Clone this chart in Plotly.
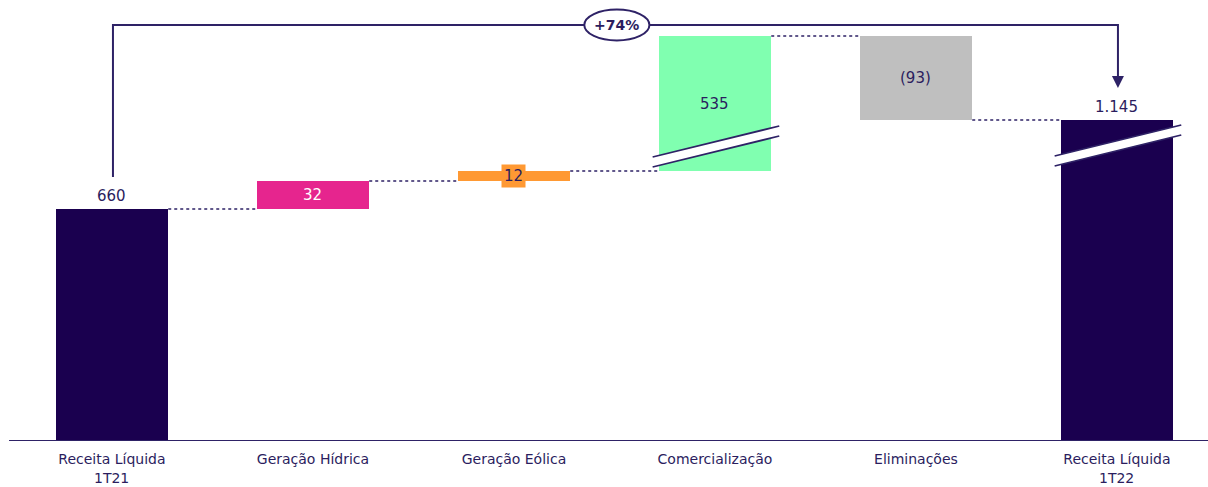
import plotly.graph_objects as go

# ---- data ----
categories = ["Receita Líquida<br>1T21", "Geração Hídrica", "Geração Eólica",
              "Comercialização", "Eliminações", "Receita Líquida<br>1T22"]
values = [660, 32, 12, 535, -93, 1145]
value_labels = ["660", "32", "12", "535", "(93)", "1.145"]
measures = ["total", "relative", "relative", "relative", "relative", "total"]
# heights as drawn on the chart's compressed (broken) axis
drawn_heights = [232, 28, 10, 135, -84, 321]
broken = [False, False, False, True, False, True]
growth_label = "+74%"

# ---- styles ----
NAVY = "#1a004f"
TEXT = "#2b1d5e"
LINE = "#2e2266"
colors = [NAVY, "#e6258e", "#ff9933", "#80ffb0", "#bfbfbf", NAVY]
FONT = "DejaVu Sans"
BW = 0.56

# cumulative bases
bases, tops = [], []
running = 0
for h, m in zip(drawn_heights, measures):
    if m == "total":
        base = 0
        running = h
    else:
        base = running
        running = running + h
    bases.append(base)
    tops.append(base + h)

xs = list(range(len(categories)))

fig = go.Figure()
fig.add_trace(go.Bar(
    x=xs, y=drawn_heights, base=bases, width=BW,
    marker=dict(color=colors, line=dict(width=0)),
    hoverinfo="skip", showlegend=False,
))

shapes = []
annotations = []

# baseline
shapes.append(dict(type="line", xref="x", yref="y", x0=-0.512, x1=5.46, y0=0, y1=0,
                   line=dict(color=LINE, width=2)))

# dotted connectors
for i in range(len(xs) - 1):
    level = tops[i]
    if drawn_heights[i + 1] < 0:
        level = bases[i + 1]
    shapes.append(dict(type="line", xref="x", yref="y",
                       x0=xs[i] + BW / 2, x1=xs[i + 1] - BW / 2, y0=level, y1=level,
                       line=dict(color=LINE, width=1.6, dash="dot")))

# break marks on broken bars
for i, b in enumerate(broken):
    if not b:
        continue
    if measures[i] == "relative":
        lo = min(bases[i], tops[i]) + 14
    else:
        lo = tops[i] - 36
    xl, xr = xs[i] - BW / 2 - 0.03, xs[i] + BW / 2 + 0.04
    rise, gap = 31, 10
    path = (f"M {xl},{lo} L {xr},{lo + rise} L {xr},{lo + rise - gap} "
            f"L {xl},{lo - gap} Z")
    shapes.append(dict(type="path", xref="x", yref="y", path=path,
                       fillcolor="white", line=dict(width=0)))
    for off in (0, -gap):
        shapes.append(dict(type="line", xref="x", yref="y",
                           x0=xl, y0=lo + off, x1=xr, y1=lo + rise + off,
                           line=dict(color=LINE, width=1.8)))

# value labels
VSIZE = 15
for i, lab in enumerate(value_labels):
    if measures[i] == "total":
        annotations.append(dict(x=xs[i], y=tops[i], xref="x", yref="y", text=lab,
                                showarrow=False, yanchor="bottom", yshift=2,
                                font=dict(family=FONT, size=VSIZE, color=TEXT)))
    else:
        mid = bases[i] + drawn_heights[i] / 2
        if i == 1:
            annotations.append(dict(x=xs[i], y=mid, xref="x", yref="y", text=lab,
                                    showarrow=False, font=dict(family=FONT, size=VSIZE, color="white")))
        elif i == 2:
            annotations.append(dict(x=xs[i], y=mid, xref="x", yref="y", text=lab,
                                    showarrow=False, bgcolor=colors[i], borderpad=2,
                                    font=dict(family=FONT, size=VSIZE, color=TEXT)))
        else:
            annotations.append(dict(x=xs[i], y=mid, xref="x", yref="y", text=lab,
                                    showarrow=False, font=dict(family=FONT, size=VSIZE, color=TEXT)))

# category labels: first line as tick label, second line (if any) a bit lower
first_lines = [c.split("<br>")[0] for c in categories]
for i, c in enumerate(categories):
    parts = c.split("<br>")
    if len(parts) > 1:
        annotations.append(dict(x=xs[i], y=0, xref="x", yref="y", text=parts[1],
                                showarrow=False, yanchor="middle", yshift=-37,
                                font=dict(family=FONT, size=14, color=TEXT)))

# growth bracket
top_y = 416
start_y = tops[0] + 32
end_y = tops[-1] + 32
xr_b = xs[-1] + 0.005
shapes.append(dict(type="path", xref="x", yref="y",
                   path=f"M {xs[0] + 0.005},{start_y} L {xs[0] + 0.005},{top_y} L {xr_b},{top_y} L {xr_b},{end_y + 10}",
                   line=dict(color=LINE, width=2)))
annotations.append(dict(x=xr_b, y=end_y, xref="x", yref="y", ax=xr_b, ay=end_y + 12,
                        axref="x", ayref="y", text="", showarrow=True,
                        arrowhead=2, arrowsize=1.2, arrowwidth=2, arrowcolor=LINE))
# ellipse
ex, ew, eh = 2.512, 0.162, 15.5
shapes.append(dict(type="circle", xref="x", yref="y", x0=ex - ew, x1=ex + ew,
                   y0=top_y - eh, y1=top_y + eh, fillcolor="white",
                   line=dict(color=LINE, width=2)))
annotations.append(dict(x=ex, y=top_y, xref="x", yref="y", text=f"<b>{growth_label}</b>",
                        showarrow=False, font=dict(family=FONT, size=14, color=TEXT)))

fig.update_layout(
    width=1208, height=487,
    margin=dict(l=0, r=0, t=0, b=46),
    paper_bgcolor="white", plot_bgcolor="white",
    shapes=shapes, annotations=annotations,
    bargap=0,
    xaxis=dict(range=[-0.557, 5.453], tickvals=xs, ticktext=first_lines,
               showgrid=False, zeroline=False, showline=False, ticks="",
               ticklabelstandoff=8,
               tickfont=dict(family=FONT, size=14, color=TEXT), fixedrange=True),
    yaxis=dict(range=[0, 441], visible=False, fixedrange=True),
    font=dict(family=FONT, color=TEXT),
)

fig.write_html("out.html", config={"displayModeBar": False},
               post_script="document.body.style.margin='0px';")
